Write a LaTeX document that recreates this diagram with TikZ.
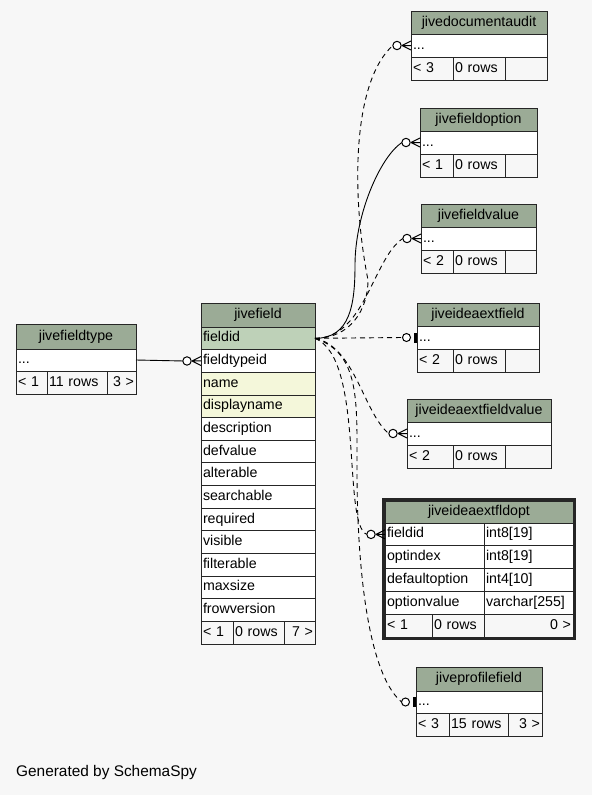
\documentclass[tikz,border=0pt]{standalone}
\usepackage{fontspec}
\setmainfont{Liberation Sans}
\usetikzlibrary{fit}

\definecolor{hdrgreen}{HTML}{9BAB96}
\definecolor{pkgreen}{HTML}{BED1B8}
\definecolor{idxyellow}{HTML}{F4F7DA}
\definecolor{canvas}{HTML}{F7F7F7}

% crow's foot with circle (zero or many) and bar with circle (zero or one)
\newcommand\manytip[1]{%
  \draw[tipline] ([xshift=-9pt]#1.west) -- ([yshift=4.5pt]#1.west)
    ([xshift=-9pt]#1.west) -- (#1.west)
    ([xshift=-9pt]#1.west) -- ([yshift=-4.5pt]#1.west);
  \draw[tipline, fill=white] ([xshift=-14pt]#1.west) circle[radius=4.2pt];}
\newcommand\onetip[1]{%
  \fill[black] ([xshift=-3pt,yshift=-5pt]#1.west) rectangle ([yshift=5pt]#1.west);
  \draw[tipline, fill=white] ([xshift=-10.5pt]#1.west) circle[radius=4pt];}

\begin{document}
\begin{tikzpicture}[x=1pt, y=-1pt,
  font=\fontsize{14.2}{16}\selectfont,
  cell/.style={draw=black!85, line width=0.9pt, anchor=north west, outer sep=0pt,
               inner xsep=2pt, inner ysep=1pt, text height=10pt, text depth=3pt,
               align=left, fill=white, minimum height=22.65pt},
  hdr/.style={cell, fill=hdrgreen, align=center},
  foot/.style={cell, fill=canvas},
  rel/.style={draw=black, line width=0.9pt},
  implied/.style={rel, dash pattern=on 5pt off 4pt},
  tipline/.style={draw=black, line width=1pt}
]
\useasboundingbox (0,0) rectangle (592,795);
\fill[canvas] (0,0) rectangle (592,795);

% jivefieldtype
\node[hdr, text width=116pt, minimum height=25pt] (jft-h) at (16,324) {jivefieldtype};
\node[cell, text width=116pt, minimum height=22pt] (jft-r) at (16,349) {...};
\node[foot, text width=27pt, minimum height=23pt] (jft-f1) at (16,371) {< 1};
\node[foot, text width=56pt, minimum height=23pt] (jft-f2) at (47,371) {11 rows};
\node[foot, text width=25pt, minimum height=23pt, align=right] (jft-f3) at (107,371) {3 >};

% jivefield
\node[hdr, text width=110pt, minimum height=24pt] (jf-h) at (201,303) {jivefield};
\foreach \fld/\fc [count=\i] in {fieldid/pkgreen, fieldtypeid/white, name/idxyellow,
    displayname/idxyellow, description/white, defvalue/white, alterable/white,
    searchable/white, required/white, visible/white, filterable/white,
    maxsize/white, frowversion/white}
  \node[cell, fill=\fc, text width=110pt] (jf-\fld) at (201,304.35+22.65*\i) {\fld};
\node[foot, text width=28pt] (jf-f1) at (201,621.45) {< 1};
\node[foot, text width=47pt] (jf-f2) at (233,621.45) {0 rows};
\node[foot, text width=27pt, align=right] (jf-f3) at (284,621.45) {7 >};

% small tables on the right
\foreach \tb/\x/\rgt/\y/\ttl/\lft in {
    aud/411/547/11/jivedocumentaudit/{< 3},
    opt/420/537/108/jivefieldoption/{< 1},
    val/421/536/204/jivefieldvalue/{< 2},
    ief/417/539/303/jiveideaextfield/{< 2},
    iev/407/551/399/jiveideaextfieldvalue/{< 2}} {
  \pgfmathsetmacro\w{\rgt-\x-4}
  \pgfmathsetmacro\wa{453-\x-4}
  \pgfmathsetmacro\wc{\rgt-505-4}
  \node[hdr, text width=\w pt, minimum height=23pt] (\tb-h) at (\x,\y) {\ttl};
  \node[cell, text width=\w pt, minimum height=23pt] (\tb-r) at (\x,\y+23) {...};
  \node[foot, text width=\wa pt, minimum height=23pt] (\tb-f1) at (\x,\y+46) {\lft};
  \node[foot, text width=48pt, minimum height=23pt] (\tb-f2) at (453,\y+46) {0 rows};
  \node[foot, text width=\wc pt, minimum height=23pt] (\tb-f3) at (505,\y+46) {};
}

% jiveideaextfldopt
\node[hdr, text width=184pt, minimum height=22pt] (fo-h) at (385,501) {jiveideaextfldopt};
\foreach \fld/\typ [count=\i] in {fieldid/{int8[19]}, optindex/{int8[19]},
    defaultoption/{int4[10]}, optionvalue/{varchar[255]}} {
  \node[cell, text width=95pt, minimum height=22.8pt] (fo-\fld) at (385,500.2+22.8*\i) {\fld};
  \node[cell, text width=85pt, minimum height=22.8pt] (fo-\fld-t) at (484,500.2+22.8*\i) {\typ};
}
\node[foot, text width=43pt, minimum height=22.8pt] (fo-f1) at (385,614.2) {< 1};
\node[foot, text width=48pt, minimum height=22.8pt] (fo-f2) at (432,614.2) {0 rows};
\node[foot, text width=85pt, minimum height=22.8pt, align=right] (fo-f3) at (484,614.2) {0 >};
\node[fit=(fo-h)(fo-f3), draw=black!85, line width=3pt, inner sep=1.5pt, outer sep=0pt] (fo-box) {};

% jiveprofilefield
\node[hdr, text width=122pt, minimum height=24pt] (pro-h) at (416,667) {jiveprofilefield};
\node[cell, text width=122pt, minimum height=22pt] (pro-r) at (416,691) {...};
\node[foot, text width=29pt, minimum height=23pt] (pro-f1) at (416,713) {< 3};
\node[foot, text width=55pt, minimum height=23pt] (pro-f2) at (449,713) {15 rows};
\node[foot, text width=30pt, minimum height=23pt, align=right] (pro-f3) at (508,713) {3 >};

\node[anchor=west, inner sep=0pt, font=\fontsize{15.4}{18}\selectfont] (credit) at (16,773) {Generated by SchemaSpy};

% relationships
\coordinate (aud-k) at (368,280);
\coordinate (opt-k) at (355,265);
\coordinate (pro-k) at (357,470);
\draw[rel] (jft-r.east) -- ([xshift=-18.2pt]jf-fieldtypeid.west);
\draw[implied] (jf-fieldid.east) .. controls +(35,0) and +(0,30) .. (aud-k)
  .. controls +(-16,-80) and +(-42,38) .. ([xshift=-18.2pt]aud-r.west);
\draw[rel] (jf-fieldid.east) .. controls +(35,0) and +(0,40) .. (opt-k)
  .. controls +(0,-50) and +(-22,15) .. ([xshift=-18.2pt]opt-r.west);
\draw[implied] (jf-fieldid.east) .. controls +(50,0) and +(-30,20) .. ([xshift=-18.2pt]val-r.west);
\draw[implied] (jf-fieldid.east) -- ([xshift=-14.5pt]ief-r.west);
\draw[implied] (jf-fieldid.east) .. controls +(40,8) and +(-25,-20) .. ([xshift=-18.2pt]iev-r.west);
\draw[implied] (jf-fieldid.east) .. controls +(50,20) and +(-25,-10) .. ([xshift=-18.2pt]fo-fieldid.west);
\draw[implied] (jf-fieldid.east) .. controls +(45,15) and +(0,-70) .. (pro-k)
  .. controls +(0,90) and +(-35,-30) .. ([xshift=-14.5pt]pro-r.west);

\manytip{jf-fieldtypeid}
\manytip{aud-r}
\manytip{opt-r}
\manytip{val-r}
\onetip{ief-r}
\manytip{iev-r}
\manytip{fo-fieldid}
\onetip{pro-r}
\end{tikzpicture}
\end{document}
